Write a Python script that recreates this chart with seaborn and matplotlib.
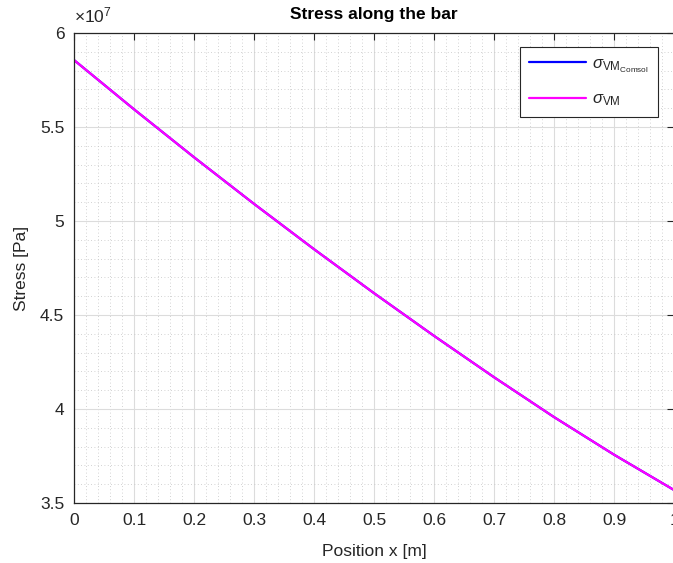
import numpy as np
import pandas as pd
import matplotlib
matplotlib.use("Agg")
import matplotlib.pyplot as plt
from matplotlib.ticker import MultipleLocator, FuncFormatter
import seaborn as sns

# Position along the bar [m] and von Mises stress [Pa]
position = [0.0, 0.1, 0.2, 0.3, 0.4, 0.5, 0.6, 0.7, 0.8, 0.9, 1.0]
stress_comsol = [5.856e7, 5.594e7, 5.339e7, 5.091e7, 4.850e7, 4.616e7,
                 4.389e7, 4.169e7, 3.957e7, 3.757e7, 3.569e7]
stress_vm = [5.856e7, 5.594e7, 5.339e7, 5.091e7, 4.850e7, 4.616e7,
             4.389e7, 4.169e7, 3.957e7, 3.757e7, 3.569e7]
series_labels = [r"$\sigma_{\mathrm{VM}_{\mathrm{Comsol}}}$", r"$\sigma_{\mathrm{VM}}$"]

x_ticks = [0, 0.1, 0.2, 0.3, 0.4, 0.5, 0.6, 0.7, 0.8, 0.9, 1.0]
y_ticks = [3.5e7, 4.0e7, 4.5e7, 5.0e7, 5.5e7, 6.0e7]

df = pd.DataFrame({
    "x": position * 2,
    "stress": stress_comsol + stress_vm,
    "series": [series_labels[0]] * len(position) + [series_labels[1]] * len(position),
})

sns.set_theme(style="white")
plt.rcParams["font.family"] = ["Liberation Sans", "DejaVu Sans"]
plt.rcParams["mathtext.fontset"] = "custom"
plt.rcParams["mathtext.rm"] = "Liberation Sans"
plt.rcParams["mathtext.it"] = "Liberation Sans:italic"
plt.rcParams["mathtext.bf"] = "Liberation Sans:bold"

fig = plt.figure(figsize=(6.73, 5.63), dpi=100)
ax = fig.add_axes([0.110, 0.1066, 0.8915, 0.8348])

sns.lineplot(data=df, x="x", y="stress", hue="series",
             palette=["#0000ff", "#ff00ff"], linewidth=1.6, ax=ax)

ax.set_xlim(0, 1)
ax.set_ylim(3.5e7, 6.0e7)
ax.set_xticks(x_ticks)
ax.set_yticks(y_ticks)
ax.xaxis.set_minor_locator(MultipleLocator(0.02))
ax.yaxis.set_minor_locator(MultipleLocator(0.1e7))
ax.xaxis.set_major_formatter(FuncFormatter(lambda v, p: f"{v:g}"))
ax.yaxis.set_major_formatter(FuncFormatter(lambda v, p: f"{v / 1e7:g}"))

dark = "#262626"
ax.grid(which="major", color="#dcdcdc", linewidth=0.8, linestyle="-")
ax.grid(which="minor", color="#c4c4c4", linewidth=0.6, linestyle=(0, (1, 3)))
ax.set_axisbelow(True)
ax.tick_params(which="major", direction="in", top=True, right=True,
               length=5, width=0.8, color=dark, labelsize=12.5,
               labelcolor=dark, pad=7)
ax.tick_params(which="minor", length=0)
for s in ax.spines.values():
    s.set_color(dark)
    s.set_linewidth(0.9)

ax.text(0.0, 1.016, r"$\times10^{7}$", transform=ax.transAxes,
        ha="left", va="bottom", fontsize=12.5, color=dark)

ax.set_title("Stress along the bar", fontsize=12.5, fontweight="bold",
             color="black", pad=10)
ax.set_xlabel("Position x [m]", fontsize=12.5, color=dark, labelpad=12)
ax.set_ylabel("Stress [Pa]", fontsize=12.5, color=dark, labelpad=8)

leg = ax.legend(loc="upper right", bbox_to_anchor=(0.973, 0.97),
                fontsize=12, frameon=True, fancybox=False,
                handlelength=3.4, borderpad=0.55, labelspacing=1.0,
                handletextpad=0.35, borderaxespad=0)
leg.get_frame().set_edgecolor(dark)
leg.get_frame().set_linewidth(0.8)
leg.get_frame().set_alpha(1)

fig.savefig("out.png", dpi=100)
